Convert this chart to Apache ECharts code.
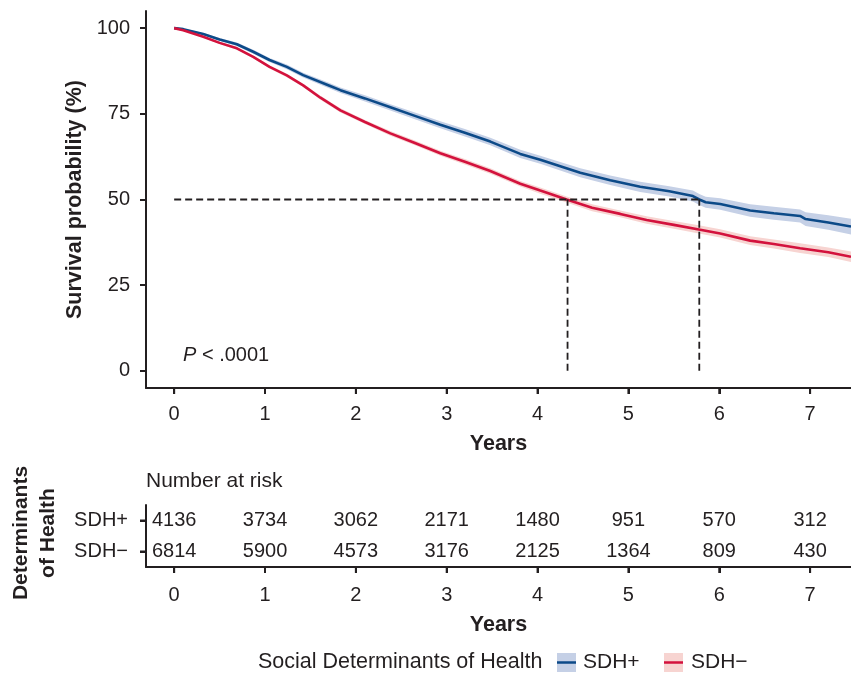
<!DOCTYPE html>
<html>
<head>
<meta charset="utf-8">
<script src="https://cdn.jsdelivr.net/npm/echarts@6/dist/echarts.min.js"></script>
<style>html,body{margin:0;padding:0;background:#fff;}#c{width:851px;height:674px;}</style>
</head>
<body>
<div id="c"></div>
<script>
// ---- data ----
const years = [0, 1, 2, 3, 4, 5, 6, 7];
const yTicks = [0, 25, 50, 75, 100];
const groups = ['SDH+', 'SDH−'];

const plusTime = [0,0.1,0.32,0.5,0.69,0.87,1.05,1.24,1.42,1.71,1.83,2.1,2.38,2.65,2.93,3.2,3.48,3.81,4.03,4.47,4.8,5.13,5.45,5.71,5.78,5.85,6.01,6.34,6.6,6.89,6.95,7.2,7.45];
const plusSurv = [100,99.7,98.3,96.7,95.3,93.1,90.7,88.7,86.3,83.2,81.9,79.5,76.9,74.4,71.8,69.5,66.9,63.3,61.6,57.8,55.6,53.7,52.4,51.0,50.0,49.2,48.7,46.8,46.0,45.2,44.3,43.3,42.1];
const plusCI   = [0,0.1,0.3,0.4,0.5,0.6,0.6,0.7,0.7,0.8,0.8,0.9,0.9,1.0,1.0,1.1,1.1,1.2,1.2,1.3,1.4,1.5,1.5,1.6,1.6,1.6,1.7,1.8,1.9,1.9,2.0,2.1,2.3];

const minusTime = [0,0.1,0.32,0.5,0.69,0.87,1.05,1.24,1.42,1.61,1.83,2.1,2.38,2.65,2.93,3.2,3.48,3.81,4.03,4.32,4.6,4.91,5.2,5.5,5.79,6.01,6.34,6.6,6.89,7.2,7.45];
const minusSurv = [100,99.4,97.5,95.7,94.1,91.6,88.7,86.2,83.3,79.7,76.0,72.6,69.3,66.5,63.5,61.0,58.3,54.6,52.6,50.0,47.6,45.8,44.0,42.6,41.2,40.1,38.0,37.0,35.8,34.6,33.3];
const minusCI   = [0,0.1,0.2,0.3,0.4,0.4,0.5,0.5,0.5,0.6,0.6,0.6,0.7,0.7,0.7,0.8,0.8,0.8,0.9,0.9,1.0,1.0,1.1,1.1,1.2,1.2,1.3,1.3,1.4,1.4,1.5];

const medians = [5.78, 4.33]; // SDH+, SDH−
const riskPlus  = [4136, 3734, 3062, 2171, 1480, 951, 570, 312];
const riskMinus = [6814, 5900, 4573, 3176, 2125, 1364, 809, 430];

// ---- styles ----
const FONT = "'Liberation Sans', Arial, sans-serif";
const TXT = '#231f20';
const cBlue = '#0c4a88', cBlueBand = '#c5d0e6';
const cRed = '#d3123d', cRedBand = '#f7d4d1';
const FS = 20, FT = 21.5, TICK = 6;

function pts(t, s) { return t.map((v, i) => [v, s[i]]); }

function bandSeries(t, s, ci, color) {
  return {
    type: 'custom', xAxisIndex: 0, yAxisIndex: 0, silent: true, z: 1,
    data: [[t[0], s[0]]],
    renderItem: function (params, api) {
      const up = t.map((v, i) => api.coord([v, s[i] + ci[i]]));
      const lo = t.map((v, i) => api.coord([v, s[i] - ci[i]])).reverse();
      return { type: 'polygon', shape: { points: up.concat(lo) }, style: { fill: color } };
    }
  };
}

// tick marks drawn through the axes' own scale (x ticks below grid, y ticks left of grid)
function xTickSeries(gridIdx) {
  return {
    type: 'custom', xAxisIndex: gridIdx, yAxisIndex: gridIdx, silent: true, z: 5, clip: false,
    data: years.map(y => [y]),
    renderItem: function (params, api) {
      const cs = params.coordSys;
      const px = api.coord([api.value(0), 0])[0];
      const py = cs.y + cs.height;
      return { type: 'line', shape: { x1: px, y1: py, x2: px, y2: py + TICK }, style: { stroke: TXT, lineWidth: 2 } };
    }
  };
}
function catTickSeries() {
  return {
    type: 'custom', xAxisIndex: 1, yAxisIndex: 1, silent: true, z: 5, clip: false,
    data: groups.map(g => [0, g]),
    renderItem: function (params, api) {
      const cs = params.coordSys;
      const py = api.coord([0, api.value(1)])[1];
      const px = cs.x;
      return { type: 'line', shape: { x1: px - TICK, y1: py, x2: px, y2: py }, style: { stroke: TXT, lineWidth: 2 } };
    }
  };
}

const chart = echarts.init(document.getElementById('c'), null, { renderer: 'canvas' });

function axisLine() { return { show: true, onZero: false, lineStyle: { color: TXT, width: 2 } }; }
function axisTick(vals) {
  const t = { show: true, length: TICK, lineStyle: { color: TXT, width: 2 } };
  if (vals) t.customValues = vals; else t.alignWithLabel = true;
  return t;
}
const nameStyle = { fontFamily: FONT, fontSize: FT, fontWeight: 'bold', color: TXT };
const dash = { color: TXT, width: 1.8, type: [7, 4] };

function valueX(grid, nameGap, margin) {
  return {
    type: 'value', gridIndex: grid, min: -0.31, max: 7.45,
    name: 'Years', nameLocation: 'middle', nameGap: nameGap, nameTextStyle: nameStyle,
    axisLine: axisLine(), splitLine: { show: false }, axisTick: axisTick(years),
    axisLabel: { show: true, customValues: years, fontFamily: FONT, fontSize: FS, color: TXT, margin: margin }
  };
}

function riskLabel(p) { return p.value[2]; }

const option = {
  animation: false,
  backgroundColor: '#fff',
  textStyle: { fontFamily: FONT },
  grid: [
    { left: 146, right: 0, top: 11, height: 377, outerBoundsMode: 'none' },
    { left: 146, right: 0, top: 505, height: 62, outerBoundsMode: 'none' }
  ],
  xAxis: [ valueX(0, 45, 16), valueX(1, 47, 18) ],
  yAxis: [
    {
      type: 'value', gridIndex: 0, min: -5, max: 105,
      name: 'Survival probability (%)', nameLocation: 'middle', nameGap: 60, nameRotate: 90,
      nameTextStyle: nameStyle, axisLine: axisLine(), splitLine: { show: false }, axisTick: axisTick(yTicks),
      axisLabel: { show: true, customValues: yTicks, fontFamily: FONT, fontSize: FS, color: TXT, margin: 16 }
    },
    {
      type: 'category', gridIndex: 1, data: [groups[1], groups[0]],
      axisLine: axisLine(), splitLine: { show: false }, axisTick: axisTick(null),
      axisLabel: { show: true, fontFamily: FONT, fontSize: FS, color: TXT, margin: 18 }
    }
  ],
  series: [
    bandSeries(plusTime, plusSurv, plusCI, cBlueBand),
    bandSeries(minusTime, minusSurv, minusCI, cRedBand),
    { type: 'line', xAxisIndex: 0, yAxisIndex: 0, data: pts(plusTime, plusSurv), showSymbol: false, z: 3,
      lineStyle: { color: cBlue, width: 2.6 } },
    { type: 'line', xAxisIndex: 0, yAxisIndex: 0, data: pts(minusTime, minusSurv), showSymbol: false, z: 3,
      lineStyle: { color: cRed, width: 2.6 } },
    { type: 'line', xAxisIndex: 0, yAxisIndex: 0, data: [[0, 50], [Math.max(...medians), 50]], showSymbol: false, z: 4,
      lineStyle: dash },
    { type: 'line', xAxisIndex: 0, yAxisIndex: 0, data: [[medians[0], 0], [medians[0], 50]], showSymbol: false, z: 4,
      lineStyle: dash },
    { type: 'line', xAxisIndex: 0, yAxisIndex: 0, data: [[medians[1], 0], [medians[1], 50]], showSymbol: false, z: 4,
      lineStyle: dash },
    { type: 'scatter', xAxisIndex: 1, yAxisIndex: 1, symbolSize: 1, itemStyle: { color: 'transparent', opacity: 1 },
      data: years.map((y, i) => [y, groups[0], riskPlus[i]]),
      label: { show: true, position: 'inside', formatter: riskLabel, fontFamily: FONT, fontSize: FS, color: TXT } },
    { type: 'scatter', xAxisIndex: 1, yAxisIndex: 1, symbolSize: 1, itemStyle: { color: 'transparent', opacity: 1 },
      data: years.map((y, i) => [y, groups[1], riskMinus[i]]),
      label: { show: true, position: 'inside', formatter: riskLabel, fontFamily: FONT, fontSize: FS, color: TXT } },
    xTickSeries(0),
    xTickSeries(1),
    catTickSeries()
  ],
  graphic: [
    { type: 'text', x: 183, y: 355, style: {
        text: '{i|P} < .0001', fontFamily: FONT, fontSize: FS, fill: TXT, verticalAlign: 'middle',
        rich: { i: { fontStyle: 'italic', fontFamily: FONT, fontSize: FS, fill: TXT } } } },
    { type: 'text', x: 146, y: 481, style: { text: 'Number at risk', fontFamily: FONT, fontSize: 21, fill: TXT, verticalAlign: 'middle' } },
    { type: 'text', x: 34.5, y: 533, rotation: Math.PI / 2, style: {
        text: 'Determinants\nof Health', fontFamily: FONT, fontSize: 21, fontWeight: 'bold', fill: TXT,
        align: 'center', verticalAlign: 'middle', lineHeight: 27 } },
    { type: 'text', x: 258, y: 662, style: { text: 'Social Determinants of Health', fontFamily: FONT, fontSize: 21.5, fill: TXT, verticalAlign: 'middle' } },
    { type: 'rect', shape: { x: 557, y: 653, width: 19, height: 19 }, style: { fill: cBlueBand } },
    { type: 'line', shape: { x1: 557, y1: 662.5, x2: 576, y2: 662.5 }, style: { stroke: cBlue, lineWidth: 2.5 } },
    { type: 'text', x: 583, y: 662, style: { text: 'SDH+', fontFamily: FONT, fontSize: 21, fill: TXT, verticalAlign: 'middle' } },
    { type: 'rect', shape: { x: 664, y: 653, width: 19, height: 19 }, style: { fill: cRedBand } },
    { type: 'line', shape: { x1: 664, y1: 662.5, x2: 683, y2: 662.5 }, style: { stroke: cRed, lineWidth: 2.5 } },
    { type: 'text', x: 691, y: 662, style: { text: 'SDH−', fontFamily: FONT, fontSize: 21, fill: TXT, verticalAlign: 'middle' } }
  ]
};
chart.setOption(option);
</script>
</body>
</html>
